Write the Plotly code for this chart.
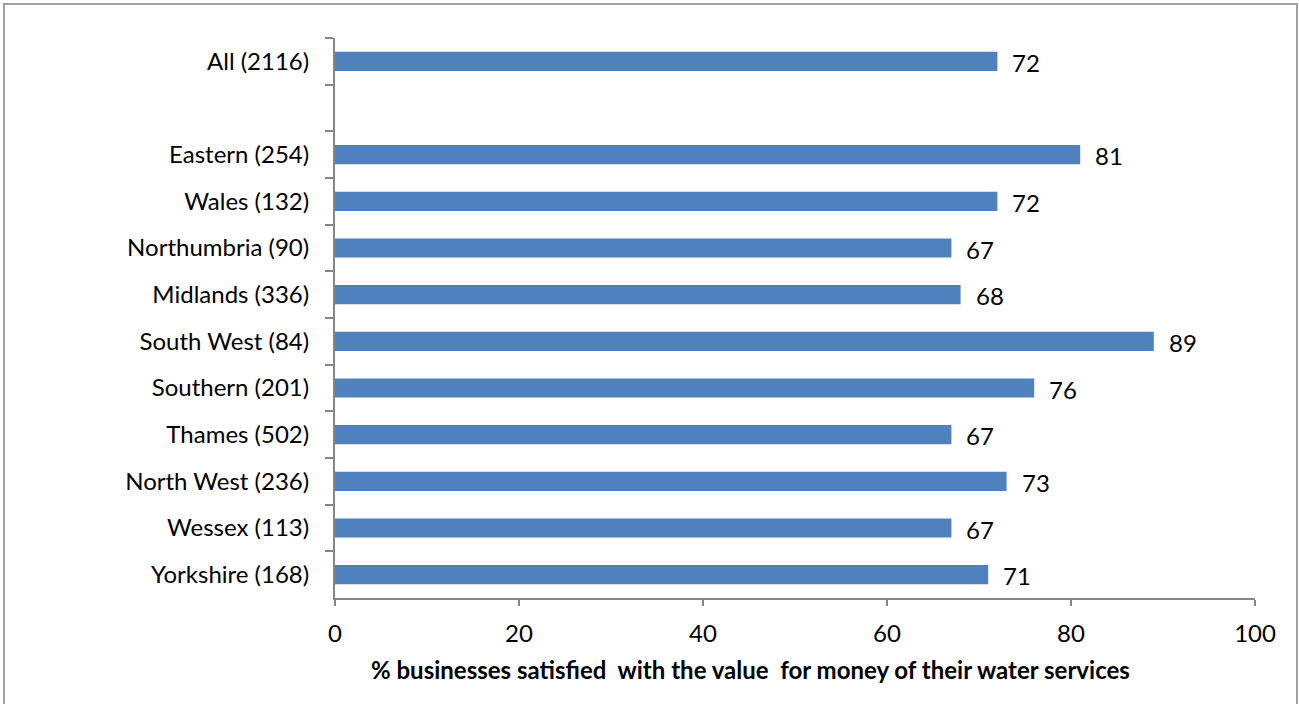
import plotly.graph_objects as go

# Survey results by water company region (sample size in brackets)
categories = [
    "All (2116)", " ",
    "Eastern (254)", "Wales (132)", "Northumbria (90)", "Midlands (336)",
    "South West (84)", "Southern (201)", "Thames (502)", "North West (236)",
    "Wessex (113)", "Yorkshire (168)",
]
values = [72, None, 81, 72, 67, 68, 89, 76, 67, 73, 67, 71]
x_ticks = [0, 20, 40, 60, 80, 100]
x_title = "% businesses satisfied  with the value  for money of their water services"

BAR = "#4F81BD"
AXIS = "#868686"
FONT = "Lato, Calibri, Carlito, sans-serif"
FS = 24

W, H = 1299, 704
L, R, T, B = 335, 44, 38, 106
pw, ph = W - L - R, H - T - B

fig = go.Figure(
    go.Bar(
        x=values, y=categories, orientation="h",
        width=0.41, marker=dict(color=BAR, line=dict(width=0)),
        hoverinfo="x+y",
    )
)

# value labels to the right of each bar
for cat, v in zip(categories, values):
    if v is None:
        continue
    fig.add_annotation(
        x=v, y=cat, text=str(v), showarrow=False,
        xanchor="left", yanchor="middle", xshift=13, yshift=-1,
        font=dict(family=FONT, size=FS, color="#000000"),
    )

# axis title
fig.add_annotation(
    x=(750 - L) / pw, y=(H - 669) / ph - B / ph, xref="paper", yref="paper",
    text="<b>" + x_title + "</b>", showarrow=False,
    xanchor="center", yanchor="middle",
    font=dict(family=FONT, size=24, color="#000000"),
)

# outer chart border
fig.add_shape(
    type="rect", xref="paper", yref="paper",
    x0=(4 - L) / pw, x1=(1297 - L) / pw,
    y0=-(H + 10 - T - ph) / ph, y1=(ph + T - 4) / ph,
    line=dict(color="#A0A0A0", width=2), fillcolor="rgba(0,0,0,0)", layer="below",
)

fig.update_layout(
    width=W, height=H,
    margin=dict(l=L, r=R, t=T, b=B, pad=0),
    paper_bgcolor="white", plot_bgcolor="white",
    showlegend=False, bargap=0.59,
    font=dict(family=FONT, size=FS, color="#000000"),
)
fig.update_xaxes(
    range=[0, 100], tickvals=x_ticks, ticktext=[str(t) for t in x_ticks],
    showgrid=False, zeroline=False, showline=True, linecolor=AXIS, linewidth=2,
    ticks="outside", ticklen=6, tickwidth=2, tickcolor=AXIS,
    tickfont=dict(family=FONT, size=FS), ticklabelstandoff=7,
)
fig.update_yaxes(
    type="category", categoryorder="array", categoryarray=categories,
    range=[len(categories) - 0.5, -0.5], tickson="boundaries",
    showgrid=False, zeroline=False, showline=True, linecolor=AXIS, linewidth=2,
    ticks="outside", ticklen=8, tickwidth=2, tickcolor=AXIS,
    tickfont=dict(family=FONT, size=FS), ticklabelstandoff=19,
)

fig.write_html("out.html")
